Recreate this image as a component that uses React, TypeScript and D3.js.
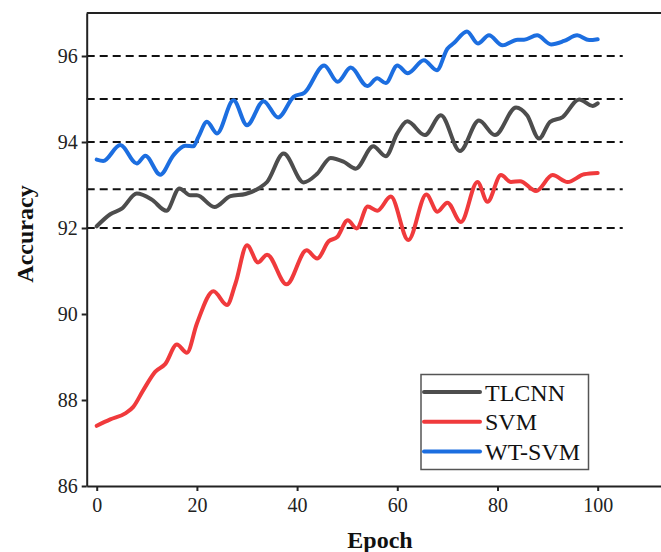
import React, { useRef, useEffect } from 'react';
import * as d3 from 'd3';

// knots: epoch positions and accuracy (%) per series
const tlcnnEpochs = [0, 2.7, 5, 8, 11, 13.9, 16.5, 18.7, 20, 23.5, 26.7, 29.7, 32.3, 34, 37.3, 41.3, 44, 46.7, 49.3, 51.7, 55.2, 57.7, 60, 62, 65.5, 68.7, 72.5, 76.3, 79.5, 83.7, 85.9, 88.3, 90.5, 93, 96.3, 99, 100];
const tlcnnAcc = [92.04, 92.32, 92.45, 92.8, 92.66, 92.4, 92.92, 92.76, 92.76, 92.49, 92.74, 92.79, 92.92, 93.07, 93.73, 93.06, 93.26, 93.63, 93.54, 93.38, 93.9, 93.67, 94.2, 94.48, 94.16, 94.62, 93.79, 94.5, 94.16, 94.8, 94.62, 94.08, 94.47, 94.58, 94.99, 94.84, 94.9];

const svmEpochs = [0, 2.7, 5.7, 7.3, 9.3, 11.7, 13.7, 16, 18, 20, 23.3, 26, 27.7, 30, 32.2, 34, 37.9, 41.9, 44, 46.3, 48, 50.1, 51.9, 54.1, 56, 58.7, 62.2, 65.8, 68, 70, 72.7, 76, 78, 80.7, 82.7, 84.5, 87.7, 91, 94, 97.3, 100];
const svmAcc = [87.4, 87.55, 87.69, 87.84, 88.23, 88.66, 88.84, 89.29, 89.1, 89.78, 90.53, 90.21, 90.71, 91.6, 91.2, 91.38, 90.69, 91.48, 91.29, 91.69, 91.79, 92.18, 91.99, 92.5, 92.4, 92.73, 91.72, 92.78, 92.38, 92.59, 92.14, 93.07, 92.61, 93.23, 93.07, 93.09, 92.86, 93.23, 93.07, 93.25, 93.28];

const wtsvmEpochs = [0, 1.3, 4.7, 8, 9.7, 12.7, 15.3, 17.7, 19.3, 20.3, 22, 24, 27.3, 30, 33.3, 36.2, 39.3, 41.5, 45.4, 48.1, 50.7, 54, 56, 57.7, 60, 62.1, 65.3, 67.9, 70, 71.3, 73.9, 76.1, 78.3, 81, 84, 85.3, 87.9, 90.7, 93.3, 95.9, 98.3, 100];
const wtsvmAcc = [93.59, 93.56, 93.93, 93.5, 93.68, 93.24, 93.69, 93.91, 93.9, 94.12, 94.47, 94.2, 94.97, 94.39, 94.95, 94.57, 95.05, 95.15, 95.78, 95.4, 95.73, 95.3, 95.48, 95.37, 95.78, 95.6, 95.9, 95.67, 96.17, 96.3, 96.57, 96.29, 96.48, 96.25, 96.38, 96.38, 96.48, 96.27, 96.35, 96.48, 96.37, 96.39];

const seriesNames = ['TLCNN', 'SVM', 'WT-SVM'];
const seriesColors = ['#4d4d4d', '#f03a3c', '#1c6ee0'];

const xTicks = [0, 20, 40, 60, 80, 100];
const yTicks = [86, 88, 90, 92, 94, 96];
const refLines = [92, 92.9, 94, 95, 96];

const W = 661;
const H = 552;
const FONT = '"Liberation Serif", "Times New Roman", serif';

const App = () => {
  const svgRef = useRef(null);

  useEffect(() => {
    const svg = d3.select(svgRef.current);
    svg.selectAll('*').remove();

    const x = d3.scaleLinear().domain([-2, 113]).range([86.7, 662.8]);
    const y = d3.scaleLinear().domain([86, 97]).range([486, 13]);

    const series = [
      { name: seriesNames[0], color: seriesColors[0], pts: tlcnnEpochs.map((e, i) => [e, tlcnnAcc[i]]) },
      { name: seriesNames[1], color: seriesColors[1], pts: svmEpochs.map((e, i) => [e, svmAcc[i]]) },
      { name: seriesNames[2], color: seriesColors[2], pts: wtsvmEpochs.map((e, i) => [e, wtsvmAcc[i]]) },
    ];

    // dashed reference lines
    svg.append('g')
      .selectAll('line')
      .data(refLines)
      .enter()
      .append('line')
      .attr('x1', x(-2))
      .attr('x2', x(105))
      .attr('y1', d => y(d))
      .attr('y2', d => y(d))
      .attr('stroke', '#111')
      .attr('stroke-width', 2)
      .attr('stroke-dasharray', '8,5');

    const line = d3.line()
      .x(d => x(d[0]))
      .y(d => y(d[1]))
      .curve(d3.curveMonotoneX);

    svg.append('g')
      .selectAll('path')
      .data(series)
      .enter()
      .append('path')
      .attr('d', d => line(d.pts))
      .attr('fill', 'none')
      .attr('stroke', d => d.color)
      .attr('stroke-width', 4)
      .attr('stroke-linecap', 'round')
      .attr('stroke-linejoin', 'round');

    // frame top
    svg.append('line')
      .attr('x1', x(-2)).attr('x2', W)
      .attr('y1', y(97)).attr('y2', y(97))
      .attr('stroke', '#222').attr('stroke-width', 2);

    const xAxis = svg.append('g')
      .attr('transform', `translate(0,${y(86)})`)
      .call(d3.axisBottom(x).tickValues(xTicks).tickSize(5).tickPadding(7).tickSizeOuter(0));

    const yAxis = svg.append('g')
      .attr('transform', `translate(${x(-2)},0)`)
      .call(d3.axisLeft(y).tickValues(yTicks).tickSize(5).tickPadding(4).tickSizeOuter(0));

    [xAxis, yAxis].forEach(g => {
      g.select('.domain').attr('stroke', '#222').attr('stroke-width', 2);
      g.selectAll('.tick line').attr('stroke', '#222').attr('stroke-width', 2);
      g.selectAll('.tick text')
        .attr('font-family', FONT)
        .attr('font-size', 20)
        .attr('fill', '#222');
    });

    svg.append('text')
      .attr('x', 380)
      .attr('y', 548)
      .attr('text-anchor', 'middle')
      .attr('font-family', FONT)
      .attr('font-size', 24)
      .attr('font-weight', 'bold')
      .attr('fill', '#111')
      .text('Epoch');

    svg.append('text')
      .attr('transform', 'translate(33,234) rotate(-90)')
      .attr('text-anchor', 'middle')
      .attr('font-family', FONT)
      .attr('font-size', 24)
      .attr('font-weight', 'bold')
      .attr('fill', '#111')
      .text('Accuracy');

    // legend
    const legend = svg.append('g');
    legend.append('rect')
      .attr('x', 421).attr('y', 374.5)
      .attr('width', 167.5).attr('height', 95)
      .attr('fill', '#fff')
      .attr('stroke', '#555')
      .attr('stroke-width', 1.5);

    const items = legend.selectAll('g.item')
      .data(series)
      .enter()
      .append('g')
      .attr('class', 'item')
      .attr('transform', (d, i) => `translate(0,${392 + i * 29.8})`);

    items.append('line')
      .attr('x1', 424).attr('x2', 480)
      .attr('y1', 0).attr('y2', 0)
      .attr('stroke', d => d.color)
      .attr('stroke-width', 4)
      .attr('stroke-linecap', 'round');

    items.append('text')
      .attr('x', 485)
      .attr('y', 8.5)
      .attr('font-family', FONT)
      .attr('font-size', 24)
      .attr('fill', '#111')
      .text(d => d.name);
  }, []);

  return (
    <svg
      ref={svgRef}
      width={W}
      height={H}
      style={{ position: 'absolute', left: 0, top: 0, background: '#fff' }}
    />
  );
};

export default App;
